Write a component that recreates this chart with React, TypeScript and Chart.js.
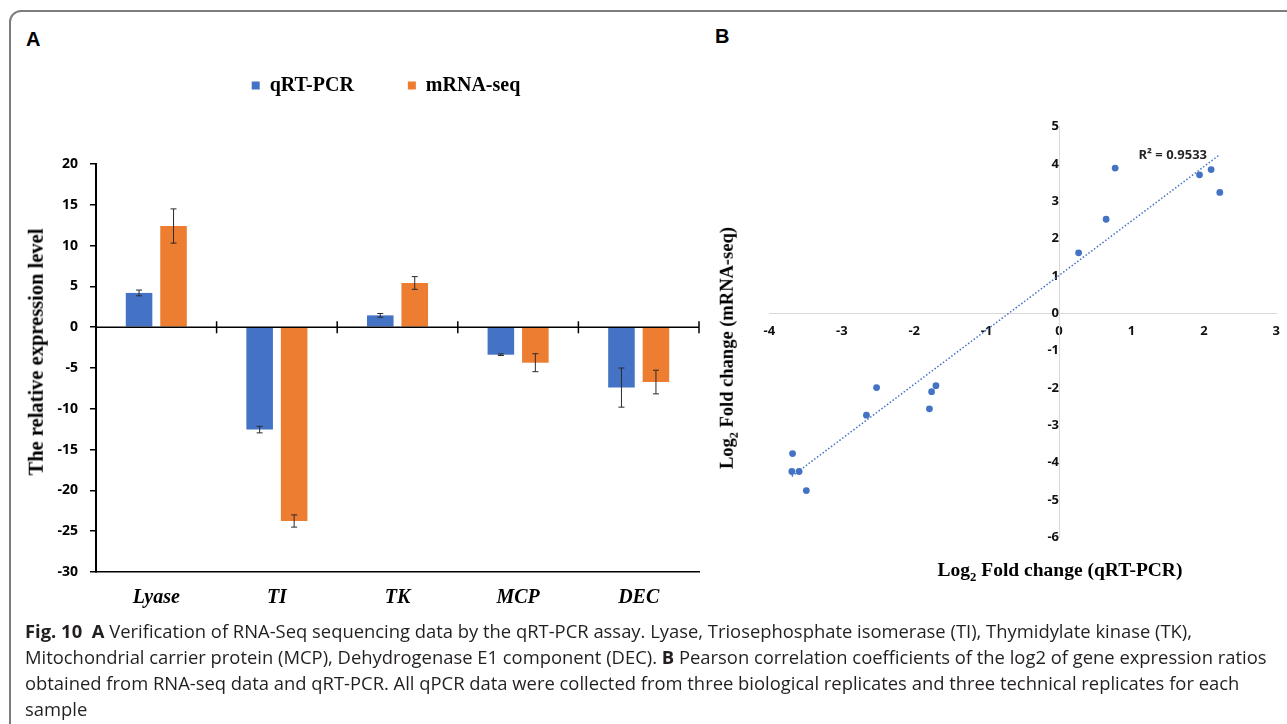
import React, { useEffect, useRef } from "react";
import { Chart, registerables } from "chart.js";

Chart.register(...registerables);

// ---------- Panel A data ----------
const genes = ["Lyase", "TI", "TK", "MCP", "DEC"];
const qrtPcrValues = [4.2, -12.55, 1.45, -3.37, -7.4];
const qrtPcrErrors = [0.35, 0.4, 0.23, 0.1, 2.4];
const mrnaSeqValues = [12.4, -23.75, 5.42, -4.35, -6.72];
const mrnaSeqErrors = [2.1, 0.75, 0.78, 1.1, 1.45];
const seriesNames = ["qRT-PCR", "mRNA-seq"];
const yMinA = -30;
const yMaxA = 20;
const yStepA = 5;

// ---------- Panel B data ----------
const log2QrtPcr = [0.27, 0.65, 0.775, 1.94, 2.1, 2.22, -3.68, -3.69, -3.59, -3.49, -2.66, -2.52, -1.79, -1.76, -1.7];
const log2MrnaSeq = [1.62, 2.52, 3.89, 3.71, 3.85, 3.24, -3.76, -4.24, -4.24, -4.75, -2.73, -1.99, -2.56, -2.1, -1.94];
const rSquaredText = "R² = 0.9533";
const rSquaredAt = { x: 1.57, y: 4.24 };
const xRangeB = [-4, 3];
const yRangeB = [-6, 5];

const BLUE = "#4472C4";
const ORANGE = "#ED7D31";

const errorBarPlugin = {
  id: "errorBars",
  afterDatasetsDraw(chart: any, _args: any, opts: any) {
    const ctx = chart.ctx;
    const yScale = chart.scales.y;
    chart.data.datasets.forEach((ds: any, di: number) => {
      const meta = chart.getDatasetMeta(di);
      const errs = opts.errors[di];
      meta.data.forEach((bar: any, i: number) => {
        const v = ds.data[i];
        const e = errs[i];
        const x = bar.x;
        const yTop = yScale.getPixelForValue(v + e);
        const yBot = yScale.getPixelForValue(v - e);
        ctx.save();
        ctx.strokeStyle = "#2b2b2b";
        ctx.lineWidth = 1;
        ctx.beginPath();
        ctx.moveTo(x, yTop);
        ctx.lineTo(x, yBot);
        ctx.moveTo(x - 3, yTop);
        ctx.lineTo(x + 3, yTop);
        ctx.moveTo(x - 3, yBot);
        ctx.lineTo(x + 3, yBot);
        ctx.stroke();
        ctx.restore();
      });
    });
  },
};

const zeroTicksPlugin = {
  id: "zeroTicks",
  afterDatasetsDraw(chart: any) {
    const ctx = chart.ctx;
    const xs = chart.scales.x;
    const ys = chart.scales.y;
    const y0 = ys.getPixelForValue(0);
    const n = chart.data.labels.length;
    ctx.save();
    ctx.strokeStyle = "#000";
    ctx.lineWidth = 1.5;
    ctx.beginPath();
    ctx.moveTo(xs.left, y0);
    ctx.lineTo(xs.right, y0);
    for (let i = 1; i <= n; i++) {
      const px = xs.left + ((xs.right - xs.left) * i) / n;
      ctx.moveTo(px, y0 - 6);
      ctx.lineTo(px, y0 + 6);
    }
    ctx.stroke();
    ctx.restore();
  },
};

// sets the legend block height and offsets where its items are painted
const legendSpacer = {
  id: "legendSpacer",
  beforeInit(chart: any, _args: any, opts: any) {
    const legend = chart.legend;
    if (!legend) return;
    const fit = legend.fit;
    legend.fit = function () {
      fit.call(this);
      this.height = opts.height;
    };
    const draw = legend.draw;
    legend.draw = function () {
      const ctx = this.ctx;
      ctx.save();
      ctx.translate(opts.shiftX, opts.shiftY);
      draw.call(this);
      ctx.restore();
    };
  },
};

const rLabelPlugin = {
  id: "rLabel",
  afterDatasetsDraw(chart: any, _args: any, opts: any) {
    const ctx = chart.ctx;
    const x = chart.scales.x.getPixelForValue(opts.at.x);
    const y = chart.scales.y.getPixelForValue(opts.at.y);
    ctx.save();
    ctx.font = 'bold 13px "Open Sans"';
    ctx.fillStyle = "#262626";
    ctx.textAlign = "center";
    ctx.textBaseline = "middle";
    ctx.fillText(opts.text, x, y);
    ctx.restore();
  },
};

function trendPoints(xs: number[], ys: number[]) {
  const n = xs.length;
  const mx = xs.reduce((a, b) => a + b, 0) / n;
  const my = ys.reduce((a, b) => a + b, 0) / n;
  let sxy = 0;
  let sxx = 0;
  for (let i = 0; i < n; i++) {
    sxy += (xs[i] - mx) * (ys[i] - my);
    sxx += (xs[i] - mx) * (xs[i] - mx);
  }
  const slope = sxy / sxx;
  const intercept = my - slope * mx;
  const x0 = Math.min(...xs);
  const x1 = Math.max(...xs);
  return [
    { x: x0, y: intercept + slope * x0 },
    { x: x1, y: intercept + slope * x1 },
  ];
}

export default function App() {
  const refA = useRef<HTMLCanvasElement>(null);
  const refB = useRef<HTMLCanvasElement>(null);

  useEffect(() => {
    const chartA = new Chart(refA.current as HTMLCanvasElement, {
      type: "bar",
      data: {
        labels: genes,
        datasets: [
          { label: seriesNames[0], data: qrtPcrValues, backgroundColor: BLUE, borderWidth: 0 },
          { label: seriesNames[1], data: mrnaSeqValues, backgroundColor: ORANGE, borderWidth: 0 },
        ],
      },
      options: {
        responsive: false,
        animation: false,
        layout: { padding: { left: 0, right: 21, top: 0, bottom: 0 } },
        datasets: { bar: { categoryPercentage: 0.572, barPercentage: 0.77 } } as any,
        plugins: {
          legend: {
            display: true,
            position: "top",
            labels: {
              boxWidth: 8,
              boxHeight: 8,
              padding: 54,
              color: "#000",
              font: { family: '"Liberation Serif", serif', size: 20, weight: "bold" },
            },
          },
          tooltip: { enabled: false },
          errorBars: { errors: [qrtPcrErrors, mrnaSeqErrors] },
          legendSpacer: { height: 104, shiftX: 26.5, shiftY: -38.5 },
        } as any,
        scales: {
          x: {
            type: "category",
            position: "bottom",
            grid: { display: false, drawTicks: false },
            border: { display: true, color: "#000", width: 1.5 },
            ticks: {
              padding: 14,
              color: "#000",
              font: { family: '"Liberation Serif", serif', size: 20, weight: "bold", style: "italic" },
            },
            afterFit: (s: any) => {
              s.height = 48;
            },
          },
          y: {
            type: "linear",
            min: yMinA,
            max: yMaxA,
            ticks: {
              stepSize: yStepA,
              padding: 12,
              color: "#000",
              font: { family: '"Open Sans", sans-serif', size: 14, weight: "bold" },
            },
            grid: {
              display: true,
              drawOnChartArea: false,
              drawTicks: true,
              tickLength: 6,
              tickColor: "#000",
              lineWidth: 1.5,
            },
            border: { display: true, color: "#000", width: 2 },
            afterFit: (s: any) => {
              s.width = 76;
            },
          },
        },
      },
      plugins: [errorBarPlugin, zeroTicksPlugin, legendSpacer],
    } as any);

    const scatterPoints = log2QrtPcr.map((x, i) => ({ x, y: log2MrnaSeq[i] }));
    const chartB = new Chart(refB.current as HTMLCanvasElement, {
      type: "scatter",
      data: {
        datasets: [
          {
            type: "line",
            label: "Linear trend",
            data: trendPoints(log2QrtPcr, log2MrnaSeq),
            borderColor: BLUE,
            borderWidth: 1.5,
            borderDash: [1.5, 2],
            pointRadius: 0,
            fill: false,
          },
          {
            label: "Log2 fold change",
            data: scatterPoints,
            backgroundColor: BLUE,
            pointRadius: 3.4,
            pointBorderWidth: 0,
          },
        ],
      },
      options: {
        responsive: false,
        animation: false,
        layout: { padding: { left: 69.4, right: 10.8, top: 26.7, bottom: 9 } },
        plugins: {
          legend: { display: false },
          tooltip: { enabled: false },
          rLabel: { text: rSquaredText, at: rSquaredAt },
        } as any,
        scales: {
          x: {
            type: "linear",
            min: xRangeB[0],
            max: xRangeB[1],
            position: { y: 0 } as any,
            grid: { display: false, drawTicks: false },
            border: { display: true, color: "#d9d9d9", width: 1 },
            ticks: {
              stepSize: 1,
              padding: 10,
              color: "#111",
              font: { family: '"Open Sans", sans-serif', size: 13, weight: "bold" },
            },
          },
          y: {
            type: "linear",
            min: yRangeB[0],
            max: yRangeB[1],
            position: { x: 0 } as any,
            grid: { display: false, drawTicks: false },
            border: { display: true, color: "#d9d9d9", width: 1 },
            ticks: {
              stepSize: 1,
              padding: 15,
              color: "#111",
              font: { family: '"Open Sans", sans-serif', size: 13, weight: "bold" },
            },
          },
        },
      },
      plugins: [rLabelPlugin],
    } as any);

    return () => {
      chartA.destroy();
      chartB.destroy();
    };
  }, []);

  const serif = '"Liberation Serif", "Times New Roman", serif';
  const captionLine: React.CSSProperties = { whiteSpace: "nowrap", height: 26 };

  return (
    <div
      style={{
        position: "fixed",
        left: 0,
        top: 0,
        width: 1287,
        height: 724,
        overflow: "hidden",
        background: "#fff",
      }}
    >
      <div
        style={{
          position: "absolute",
          left: 9,
          top: 10,
          width: 1400,
          height: 800,
          border: "2px solid #7d7d7d",
          borderRadius: 12,
          boxSizing: "border-box",
        }}
      />
      <div style={{ position: "absolute", left: 26, top: 28, font: 'bold 20px "Liberation Sans", sans-serif', color: "#000" }}>
        A
      </div>
      <div style={{ position: "absolute", left: 715, top: 25, font: 'bold 20px "Liberation Sans", sans-serif', color: "#000" }}>
        B
      </div>

      <canvas ref={refA} width={700} height={560} style={{ position: "absolute", left: 20, top: 60 }} />
      <canvas ref={refB} width={590} height={460} style={{ position: "absolute", left: 700, top: 100 }} />

      <div
        style={{
          position: "absolute",
          left: 35.7,
          top: 352,
          transform: "translate(-50%, -50%) rotate(-90deg)",
          whiteSpace: "nowrap",
          font: `bold 20.5px ${serif}`,
          lineHeight: 1,
          color: "#000",
        }}
      >
        The relative expression level
      </div>

      <div
        style={{
          position: "absolute",
          left: 727.3,
          top: 347.5,
          transform: "translate(-50%, -50%) rotate(-90deg)",
          whiteSpace: "nowrap",
          font: `bold 18.5px ${serif}`,
          lineHeight: 1,
          color: "#000",
        }}
      >
        Log<sub style={{ fontSize: "0.65em", lineHeight: 0 }}>2</sub> Fold change (mRNA-seq)
      </div>

      <div
        style={{
          position: "absolute",
          left: 1060,
          top: 570,
          transform: "translate(-50%, -50%)",
          whiteSpace: "nowrap",
          font: `bold 19.5px ${serif}`,
          lineHeight: 1,
          color: "#000",
        }}
      >
        Log<sub style={{ fontSize: "0.65em", lineHeight: 0 }}>2</sub> Fold change (qRT-PCR)
      </div>

      <div
        style={{
          position: "absolute",
          left: 25,
          top: 618,
          font: '18.4px "Open Sans", sans-serif',
          lineHeight: "26px",
          color: "#231f20",
        }}
      >
        <div style={captionLine}>
          <b>Fig. 10</b>&nbsp;&nbsp;<b>A</b> Verification of RNA-Seq sequencing data by the qRT-PCR assay. Lyase, Triosephosphate isomerase (TI), Thymidylate kinase (TK),
        </div>
        <div style={captionLine}>
          Mitochondrial carrier protein (MCP), Dehydrogenase E1 component (DEC). <b>B</b> Pearson correlation coefficients of the log2 of gene expression ratios
        </div>
        <div style={captionLine}>
          obtained from RNA-seq data and qRT-PCR. All qPCR data were collected from three biological replicates and three technical replicates for each
        </div>
        <div style={captionLine}>sample</div>
      </div>
    </div>
  );
}
